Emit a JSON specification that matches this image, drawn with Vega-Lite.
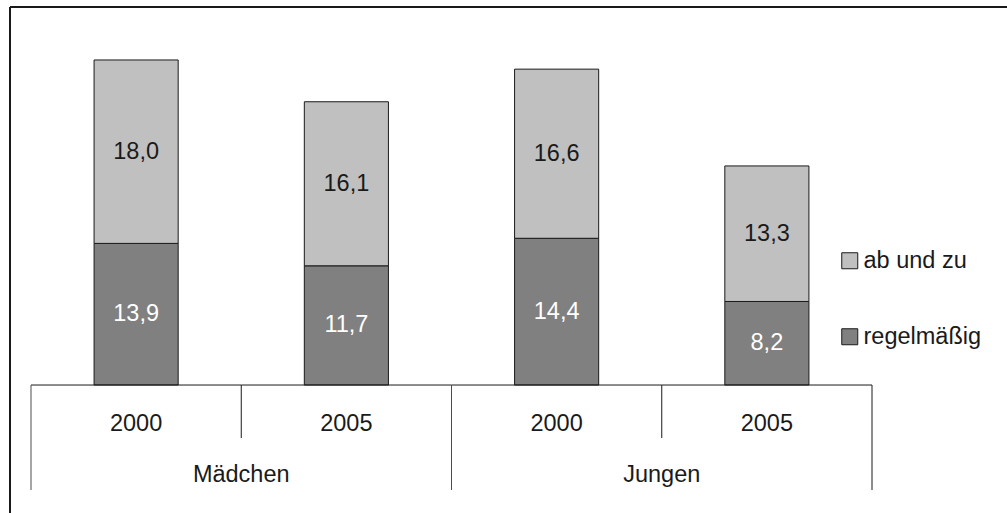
{
  "$schema": "https://vega.github.io/schema/vega-lite/v6.json",
  "width": 997,
  "height": 506,
  "padding": {"left": 10, "top": 7, "right": 0, "bottom": 0},
  "autosize": {"type": "none"},
  "config": {
    "view": {"stroke": null},
    "font": "Liberation Sans",
    "locale": {"number": {"decimal": ",", "thousands": ".", "grouping": [3], "currency": ["", " €"]}}
  },
  "datasets": {
    "werte": [
      {"kategorie": "Mädchen 2000", "gruppe": "Mädchen", "jahr": "2000", "typ": "regelmäßig", "wert": 13.9},
      {"kategorie": "Mädchen 2000", "gruppe": "Mädchen", "jahr": "2000", "typ": "ab und zu", "wert": 18.0},
      {"kategorie": "Mädchen 2005", "gruppe": "Mädchen", "jahr": "2005", "typ": "regelmäßig", "wert": 11.7},
      {"kategorie": "Mädchen 2005", "gruppe": "Mädchen", "jahr": "2005", "typ": "ab und zu", "wert": 16.1},
      {"kategorie": "Jungen 2000", "gruppe": "Jungen", "jahr": "2000", "typ": "regelmäßig", "wert": 14.4},
      {"kategorie": "Jungen 2000", "gruppe": "Jungen", "jahr": "2000", "typ": "ab und zu", "wert": 16.6},
      {"kategorie": "Jungen 2005", "gruppe": "Jungen", "jahr": "2005", "typ": "regelmäßig", "wert": 8.2},
      {"kategorie": "Jungen 2005", "gruppe": "Jungen", "jahr": "2005", "typ": "ab und zu", "wert": 13.3}
    ],
    "kategorien": [
      {"kategorie": "Mädchen 2000", "gruppe": "Mädchen", "jahr": "2000"},
      {"kategorie": "Mädchen 2005", "gruppe": "Mädchen", "jahr": "2005"},
      {"kategorie": "Jungen 2000", "gruppe": "Jungen", "jahr": "2000"},
      {"kategorie": "Jungen 2005", "gruppe": "Jungen", "jahr": "2005"}
    ]
  },
  "resolve": {"scale": {"x": "independent"}},
  "layer": [
    {
      "data": {"values": [{"rahmen": "links"}]},
      "layer": [
        {
          "mark": {"type": "rule", "stroke": "#1a1a1a", "strokeWidth": 2},
          "encoding": {
            "x": {"datum": 0, "type": "quantitative", "scale": {"domain": [0, 1], "nice": false, "zero": false}, "axis": null}
          }
        },
        {
          "mark": {"type": "rule", "stroke": "#1a1a1a", "strokeWidth": 2},
          "encoding": {
            "y": {"datum": 37.1, "type": "quantitative", "scale": {"domain": [-12.56, 37.1], "nice": false, "zero": false}, "axis": null}
          }
        }
      ]
    },
    {
      "layer": [
        {
          "data": {"name": "werte"},
          "mark": {"type": "bar", "stroke": "#1a1a1a", "strokeWidth": 1, "width": {"band": 0.4}},
          "encoding": {
            "x": {"field": "kategorie", "type": "nominal", "axis": null,
                  "scale": {"domain": ["Mädchen 2000", "Mädchen 2005", "Jungen 2000", "Jungen 2005"], "range": [21, 862], "paddingInner": 0, "paddingOuter": 0}},
            "y": {"field": "wert", "type": "quantitative", "stack": "zero", "axis": null,
                  "scale": {"domain": [-12.56, 37.1], "nice": false, "zero": false}},
            "color": {"field": "typ", "type": "nominal",
                      "scale": {"domain": ["ab und zu", "regelmäßig"], "range": ["#c0c0c0", "#808080"]},
                      "legend": {"orient": "none", "legendX": 828, "legendY": 242, "title": null,
                                 "symbolType": "square", "symbolSize": 256, "symbolStrokeColor": "#1a1a1a", "symbolStrokeWidth": 1,
                                 "labelFontSize": 23.5, "labelColor": "#1a1a1a", "labelFont": "Liberation Sans",
                                 "rowPadding": 51, "labelOffset": 2, "padding": 0}},
            "order": {"field": "typ", "sort": "descending"}
          }
        },
        {
          "data": {"name": "werte"},
          "transform": [
            {"stack": "wert", "groupby": ["kategorie"], "as": ["w0", "w1"], "sort": [{"field": "typ", "order": "descending"}]},
            {"calculate": "(datum.w0 + datum.w1) / 2", "as": "mitte"}
          ],
          "mark": {"type": "text", "fontSize": 23.5, "baseline": "middle", "align": "center"},
          "encoding": {
            "x": {"field": "kategorie", "type": "nominal", "axis": null},
            "y": {"field": "mitte", "type": "quantitative", "axis": null,
                  "scale": {"domain": [-12.56, 37.1], "nice": false, "zero": false}},
            "text": {"field": "wert", "type": "quantitative", "format": ".1f"},
            "color": {"condition": {"test": "datum.typ === 'regelmäßig'", "value": "#ffffff"}, "value": "#1a1a1a"}
          }
        },
        {
          "data": {"name": "kategorien"},
          "mark": {"type": "rule", "stroke": "#1a1a1a", "strokeWidth": 1},
          "encoding": {
            "x": {"field": "kategorie", "type": "nominal", "bandPosition": 0, "axis": null},
            "x2": {"field": "kategorie", "bandPosition": 1},
            "y": {"datum": 0, "type": "quantitative", "axis": null,
                  "scale": {"domain": [-12.56, 37.1], "nice": false, "zero": false}}
          }
        },
        {
          "data": {"name": "kategorien"},
          "transform": [{"filter": "datum.jahr === '2005'"}],
          "mark": {"type": "rule", "stroke": "#1a1a1a", "strokeWidth": 1},
          "encoding": {
            "x": {"field": "kategorie", "type": "nominal", "bandPosition": 0, "axis": null},
            "y": {"datum": 0, "type": "quantitative", "axis": null,
                  "scale": {"domain": [-12.56, 37.1], "nice": false, "zero": false}},
            "y2": {"datum": -5.2}
          }
        },
        {
          "data": {"name": "kategorien"},
          "transform": [{"filter": "datum.jahr === '2000'"}],
          "mark": {"type": "rule", "stroke": "#4d4d4d", "strokeWidth": 1},
          "encoding": {
            "x": {"field": "kategorie", "type": "nominal", "bandPosition": 0, "axis": null},
            "y": {"datum": 0, "type": "quantitative", "axis": null,
                  "scale": {"domain": [-12.56, 37.1], "nice": false, "zero": false}},
            "y2": {"datum": -10.3}
          }
        },
        {
          "data": {"name": "kategorien"},
          "transform": [{"filter": "datum.kategorie === 'Jungen 2005'"}],
          "mark": {"type": "rule", "stroke": "#1a1a1a", "strokeWidth": 1},
          "encoding": {
            "x": {"field": "kategorie", "type": "nominal", "bandPosition": 1, "axis": null},
            "y": {"datum": 0, "type": "quantitative", "axis": null,
                  "scale": {"domain": [-12.56, 37.1], "nice": false, "zero": false}},
            "y2": {"datum": -10.3}
          }
        },
        {
          "data": {"name": "kategorien"},
          "mark": {"type": "text", "fontSize": 23.5, "baseline": "alphabetic", "align": "center", "color": "#1a1a1a"},
          "encoding": {
            "x": {"field": "kategorie", "type": "nominal", "axis": null},
            "y": {"datum": -4.51, "type": "quantitative", "axis": null,
                  "scale": {"domain": [-12.56, 37.1], "nice": false, "zero": false}},
            "text": {"field": "jahr", "type": "nominal"}
          }
        },
        {
          "data": {"name": "kategorien"},
          "transform": [{"filter": "datum.jahr === '2005'"}],
          "mark": {"type": "text", "fontSize": 23.5, "baseline": "alphabetic", "align": "center", "color": "#1a1a1a"},
          "encoding": {
            "x": {"field": "kategorie", "type": "nominal", "bandPosition": 0, "axis": null},
            "y": {"datum": -9.52, "type": "quantitative", "axis": null,
                  "scale": {"domain": [-12.56, 37.1], "nice": false, "zero": false}},
            "text": {"field": "gruppe", "type": "nominal"}
          }
        }
      ]
    }
  ]
}
